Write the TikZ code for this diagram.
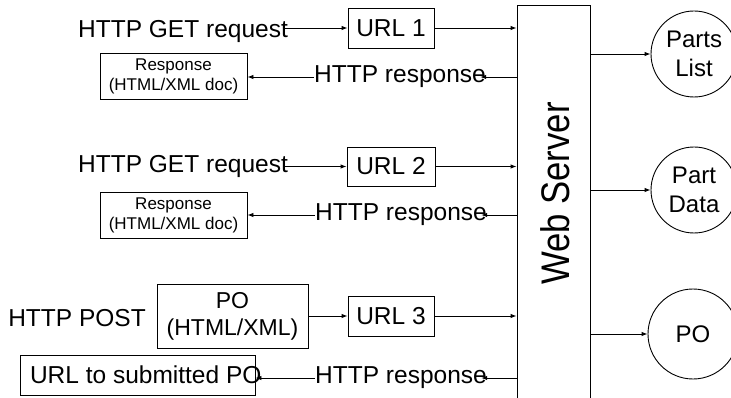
\documentclass[tikz,border=0pt]{standalone}
\usepackage{fontspec}
\setmainfont{Liberation Sans}
\usetikzlibrary{arrows.meta}
\begin{document}
\begin{tikzpicture}[x=1pt,y=-1pt, line width=0.9pt,
  big/.style={font=\fontsize{24.5}{29}\selectfont},
  txt/.style={inner sep=0pt, big},
  box/.style={draw, inner sep=0pt, align=center},
  urlbox/.style={box, big, minimum width=86pt, minimum height=40pt},
  respbox/.style={box, font=\fontsize{17}{20}\selectfont, minimum width=147pt, minimum height=46pt},
  arr/.style={-{Latex[length=6pt,width=4.5pt]}},
  circ/.style={draw, circle, inner sep=0pt, minimum size=86pt, align=center, font=\fontsize{24}{29}\selectfont}]
\useasboundingbox (0,0) rectangle (731,398);
\clip (0,0) rectangle (731,398);

% web server
\node[draw, inner sep=0pt, minimum width=73pt, minimum height=430pt] (server) at (553.5,220) {};
\node[rotate=90, inner sep=0pt, font=\fontsize{34.7}{40}\selectfont] (ws) at (555,193.5) {\scalebox{1}[1.15]{Web Server}};

% row 1
\node[txt] (get1) at (183,31.8) {HTTP GET request};
\node[urlbox] (url1) at (391,28) {URL 1};
\node[txt] (rt1) at (400,77) {HTTP response};
\node[respbox] (resp1) at (173.5,76) {Response\\(HTML/XML doc)};

% row 2
\node[txt] (get2) at (183,166) {HTTP GET request};
\node[urlbox, minimum width=88pt, minimum height=39pt] (url2) at (391,166.5) {URL 2};
\node[txt] (rt2) at (401,215) {HTTP response};
\node[respbox] (resp2) at (173.5,215) {Response\\(HTML/XML doc)};

% row 3
\node[txt] (post) at (77,318) {HTTP POST};
\node[box, font=\fontsize{23}{27}\selectfont, minimum width=151pt, minimum height=64pt] (po) at (232.5,316) {PO\\(HTML/XML)};
\node[urlbox] (url3) at (391,316) {URL 3};
\node[txt] (rt3) at (401,378) {HTTP response};
\node[box, big, minimum width=235pt, minimum height=40pt] (sub) at (137.5,375) {\hspace*{8.5pt}\makebox[223.5pt][l]{URL to submitted PO}};

% circles
\node[circ] (parts) at (694,54) {Parts\\List};
\node[circ] (data) at (694,190) {Part\\Data};
\node[circ, minimum size=90pt] (pocirc) at (693,334) {PO};

% requests
\draw[arr] ([xshift=-3pt]get1.east |- url1) -- (url1.west);
\draw[arr] (url1.east) -- (server.west |- url1);
\draw[arr] ([xshift=-3pt]get2.east |- url2) -- (url2.west);
\draw[arr] (url2.east) -- (server.west |- url2);
\draw[arr] (po.east |- url3) -- (url3.west);
\draw[arr] (url3.east) -- (server.west |- url3);

% responses
\draw[arr] (server.west |- rt1) -- ([xshift=-6pt]rt1.east);
\draw[arr] (rt1.west) -- (rt1.west -| resp1.east);
\draw[arr] (server.west |- rt2) -- ([xshift=-6pt]rt2.east);
\draw[arr] (rt2.west) -- (rt2.west -| resp2.east);
\draw[arr] (server.west |- rt3) -- ([xshift=-6pt]rt3.east);
\draw[arr] (rt3.west) -- (rt3.west -| sub.east);

% server to resources
\draw[arr] (server.east |- parts) -- (parts.west);
\draw[arr] (server.east |- data) -- (data.west);
\draw[arr] (server.east |- pocirc) -- (pocirc.west);
\end{tikzpicture}
\end{document}
